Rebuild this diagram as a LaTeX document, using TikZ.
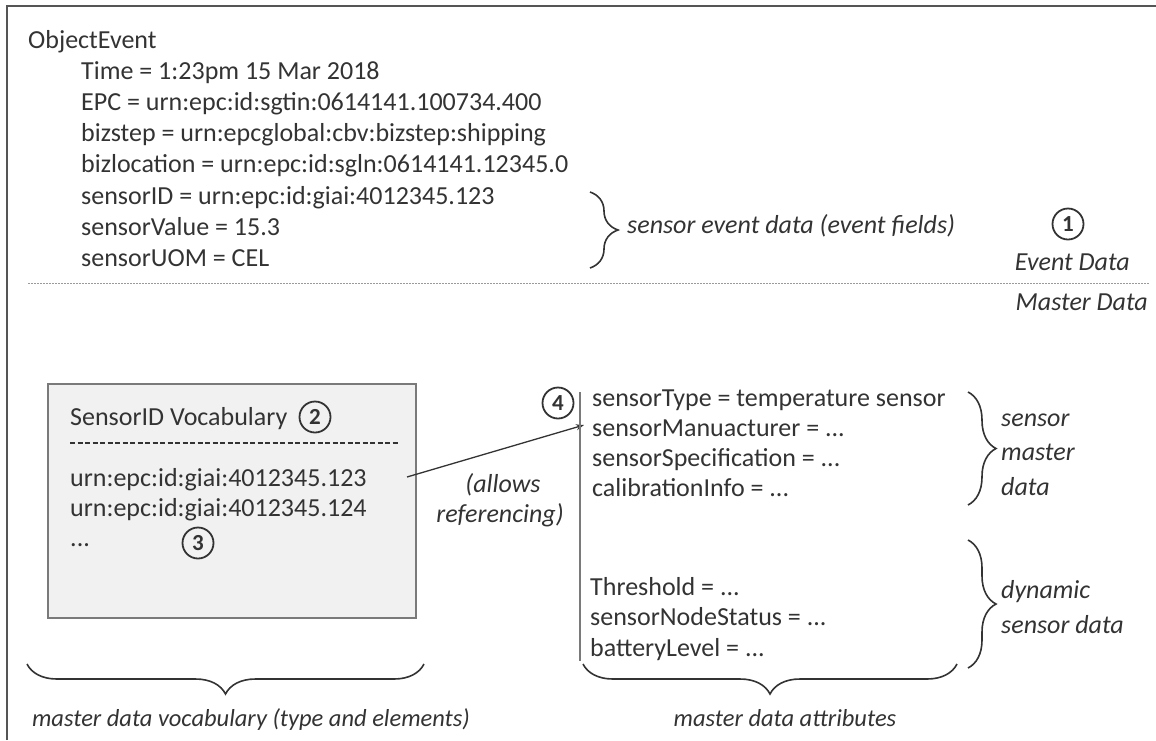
\documentclass[tikz,border=0pt]{standalone}
\usepackage{fontspec}
\setmainfont{Carlito}
\usetikzlibrary{decorations.pathreplacing,arrows.meta}
\definecolor{ink}{HTML}{333333}
\definecolor{framegray}{HTML}{555555}
\definecolor{boxfill}{HTML}{F1F1F1}
\definecolor{boxline}{HTML}{7A7A7A}
\definecolor{rulegray}{HTML}{9A9A9A}
\begin{document}
\begin{tikzpicture}[x=1pt,y=-1pt,
  txt/.style={font=\fontsize{26}{31}\selectfont, text=ink, inner sep=0pt, anchor=base west},
  note/.style={font=\fontsize{26}{31}\selectfont\itshape, text=ink, inner sep=0pt, anchor=base west},
  foot/.style={font=\fontsize{24.5}{29}\selectfont\itshape, text=ink, inner sep=0pt, anchor=base},
  num/.style={circle, draw=ink, line width=1.8pt, minimum size=31pt, inner sep=0pt,
    font=\fontsize{23}{23}\selectfont\bfseries, text=ink},
  curly/.style={decorate, decoration={brace, amplitude=28pt}, draw=ink, line width=1.6pt},
  curlyfoot/.style={decorate, decoration={brace, amplitude=30pt}, draw=ink, line width=1.6pt},
  vocabbox/.style={draw=boxline, fill=boxfill, line width=1.6pt, inner sep=0pt, anchor=north west}]
\useasboundingbox (0,0) rectangle (1156,740);

% outer frame (top and left edges)
\draw[framegray, line width=2.4pt] (7,740) -- (7,6) -- (1156,6);

% ---- event data ----
\node[txt] (oe) at (28,48) {ObjectEvent};
\node[txt] (time) at (81,79) {Time = 1:23pm 15 Mar 2018};
\node[txt] (epc) at (81,110) {EPC = urn:epc:id:sgtin:0614141.100734.400};
\node[txt] (bizstep) at (81,141) {bizstep = urn:epcglobal:cbv:bizstep:shipping};
\node[txt] (bizloc) at (81,172) {bizlocation = urn:epc:id:sgln:0614141.12345.0};
\node[txt] (sid) at (81,204) {sensorID = urn:epc:id:giai:4012345.123};
\node[txt] (sval) at (81,235) {sensorValue = 15.3};
\node[txt] (suom) at (81,266) {sensorUOM = CEL};

\coordinate (eb1) at (590,192);
\coordinate (eb2) at (590,268);
\draw[curly] (eb1) -- (eb2);
\node[note] (evfields) at (627,233) {sensor event data (event fields)};

\node[num] (n1) at (1068,224) {1};
\node[note, anchor=base east] (evdata) at (1130,270) {Event Data};

% separator between event data and master data
\coordinate (sepL) at (28,283);
\coordinate (sepR) at (1150,283);
\draw[rulegray, line width=1pt, dash pattern=on 1.5pt off 1.5pt] (sepL) -- (sepR);
\node[note, anchor=base east] (mdata) at (1148,310) {Master Data};

% ---- vocabulary box ----
\node[vocabbox, minimum width=368pt, minimum height=234pt] (vocab) at (47,383) {};
\node[txt] (vocabtitle) at (70,425) {SensorID Vocabulary};
\node[num] (n2) at (315,417) {2};
\coordinate (dashL) at (70,443);
\coordinate (dashR) at (398,443);
\draw[ink, line width=1.2pt, dash pattern=on 5pt off 2.5pt] (dashL) -- (dashR);
\node[txt] (u123) at (70,486) {urn:epc:id:giai:4012345.123};
\node[txt] (u124) at (70,516) {urn:epc:id:giai:4012345.124};
\node[txt] (udots) at (70,546) {...};
\node[num] (n3) at (198,543) {3};

% reference from vocabulary element to its attributes
\coordinate (refstart) at (407,477);
\coordinate (refend) at (584,425);
\draw[ink, line width=1.3pt, -{Stealth[length=8pt,width=6pt]}] (refstart) -- (refend);
\node[note, anchor=base] (allows) at (503,492) {(allows};
\node[note, anchor=base] (referencing) at (500,522) {referencing)};

% ---- attributes ----
\node[num] (n4) at (558,403) {4};
\coordinate (attrtop) at (580,392);
\coordinate (attrbot) at (580,661);
\draw[boxline, line width=1.2pt] (attrtop) -- (attrbot);
\node[txt] (stype) at (592,406) {sensorType = temperature sensor};
\node[txt] (smanu) at (592,436) {sensorManuacturer = ...};
\node[txt] (sspec) at (592,466) {sensorSpecification = ...};
\node[txt] (calib) at (592,496) {calibrationInfo = ...};
\node[txt] (thresh) at (590,595) {Threshold = ...};
\node[txt] (nstat) at (590,625) {sensorNodeStatus = ...};
\node[txt] (batt) at (590,656) {batteryLevel = ...};

\coordinate (mb1) at (968,392);
\coordinate (mb2) at (968,505);
\draw[curly] (mb1) -- (mb2);
\node[note] (smd1) at (1001,426) {sensor};
\node[note] (smd2) at (1001,460) {master};
\node[note] (smd3) at (1001,495) {data};

\coordinate (db1) at (968,540);
\coordinate (db2) at (968,668);
\draw[curly] (db1) -- (db2);
\node[note] (dsd1) at (1001,598) {dynamic};
\node[note] (dsd2) at (1001,633) {sensor data};

% ---- bottom labels ----
\coordinate (fl1) at (424,664);
\coordinate (fl2) at (27,664);
\draw[curlyfoot] (fl1) -- (fl2);
\node[foot] (vocablabel) at (251,726) {master data vocabulary (type and elements)};

\coordinate (fr1) at (957,664);
\coordinate (fr2) at (583,664);
\draw[curlyfoot] (fr1) -- (fr2);
\node[foot] (attrlabel) at (785,726) {master data attributes};
\end{tikzpicture}
\end{document}
